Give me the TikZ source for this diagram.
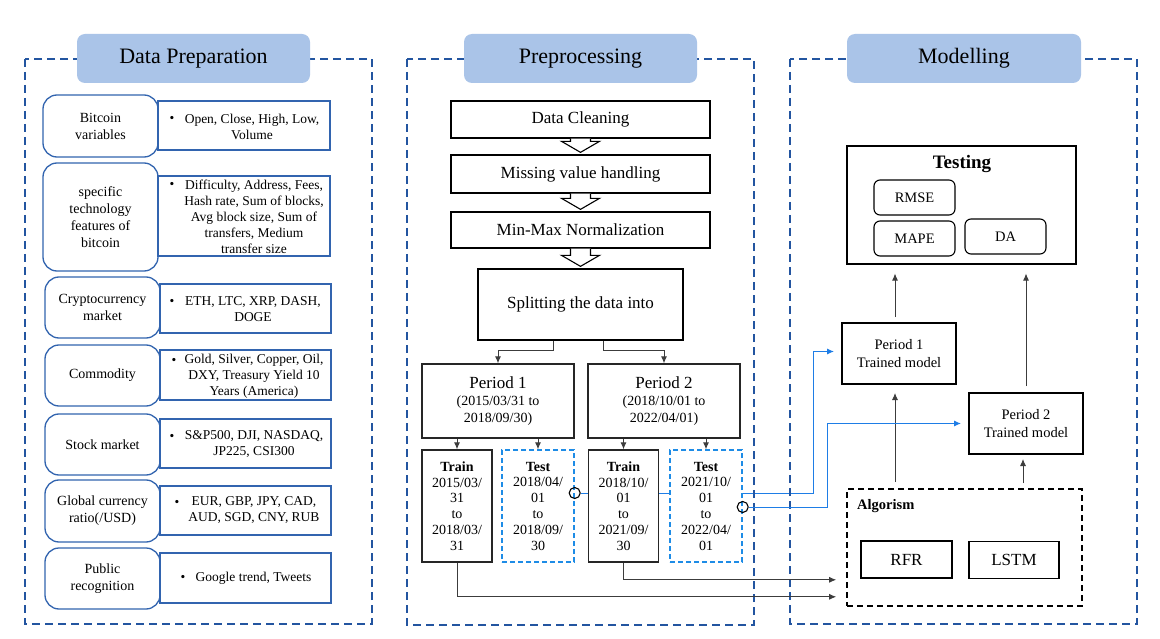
\documentclass[tikz,border=0pt]{standalone}
\usepackage{fontspec}
\setmainfont{Liberation Serif}
\usetikzlibrary{arrows.meta,calc,backgrounds}
\definecolor{panelblue}{RGB}{35,85,160}
\definecolor{titlefill}{RGB}{170,196,232}
\definecolor{boxblue}{RGB}{50,100,175}
\definecolor{testblue}{RGB}{30,140,230}
\definecolor{linkblue}{RGB}{30,125,230}
\definecolor{grayline}{RGB}{60,60,60}
\begin{document}
\begin{tikzpicture}[x=1pt,y=-1pt,
 panel/.style={draw=panelblue, line width=1.8pt, dash pattern=on 8pt off 5pt},
 titlebox/.style={fill=titlefill, rounded corners=8pt, minimum width=233pt, minimum height=49pt, font=\fontsize{22}{26}\selectfont, inner sep=0pt},
 lbox/.style={draw=boxblue, line width=1.3pt, fill=white, rounded corners=14pt, minimum width=115pt, align=center, font=\fontsize{14}{17}\selectfont, inner sep=0pt},
 rbox/.style={draw=boxblue, line width=1.3pt, fill=white, inner sep=0pt},
 rtxt/.style={align=center, font=\fontsize{13.5}{16}\selectfont, inner sep=0pt},
 bul/.style={font=\fontsize{13.5}{16}\selectfont, inner sep=0pt},
 pstep/.style={draw=black, line width=1.3pt, fill=white, minimum width=259pt, font=\fontsize{17}{20}\selectfont, inner sep=0pt},
 hollow/.style={draw=black, line width=1.1pt, fill=white, line join=miter},
 pbox/.style={draw=black!85, line width=1.4pt, fill=white, minimum width=152pt, minimum height=74pt, align=center, font=\fontsize{14}{17}\selectfont, inner sep=0pt},
 trbox/.style={draw=black!85, line width=1.4pt, fill=white, minimum width=70pt, minimum height=112pt, align=center, font=\fontsize{14}{15.8}\selectfont, inner sep=0pt},
 tebox/.style={draw=testblue, line width=1.4pt, dash pattern=on 5pt off 3pt, fill=white, minimum width=72pt, minimum height=112pt, align=center, font=\fontsize{14}{15.8}\selectfont, inner sep=0pt},
 ring/.style={circle, draw=black, line width=1.1pt, minimum size=11pt, inner sep=0pt},
 conn/.style={draw=grayline, line width=0.9pt, -{Latex[length=7pt,width=6pt]}},
 blink/.style={draw=linkblue, line width=1pt, -{Latex[length=7pt,width=6pt]}},
 metric/.style={draw=black, line width=1.1pt, rounded corners=6pt, minimum width=81pt, minimum height=35pt, font=\fontsize{14.5}{17}\selectfont, inner sep=0pt},
 tmodel/.style={draw=black, line width=2pt, fill=white, minimum width=114pt, minimum height=61pt, align=center, font=\fontsize{14.5}{18}\selectfont, inner sep=0pt},
 algbox/.style={draw=black, line width=1.6pt, dash pattern=on 6pt off 4pt, minimum width=235pt, minimum height=117pt, inner sep=0pt},
 algitem/.style={draw=black, line width=1.2pt, minimum height=37pt, font=\fontsize{17}{20}\selectfont, inner sep=0pt}
]
\useasboundingbox (0,0) rectangle (1160,639);
\begin{pgfonlayer}{background}
\fill[white] (0,0) rectangle (1160,639);
\end{pgfonlayer}

% panels
\draw[panel] (25,59) rectangle (372,624);
\draw[panel] (407,59) rectangle (754,625);
\draw[panel] (790,59) rectangle (1137,624);

% titles
\node[titlebox] (tdp) at (193.5,58.5) {Data Preparation};
\node[titlebox] (tpp) at (580.5,58.5) {Preprocessing};
\node[titlebox, minimum width=234pt] (tmo) at (964,58.5) {Modelling};

% ---- Data preparation rows
\node[lbox, minimum height=62pt] (l1) at (100.5,126) {Bitcoin\\variables};
\node[rbox, minimum width=172pt, minimum height=49pt] (r1) at (244,125.5) {};
\node[rtxt] (t1) at (252,127) {Open, Close, High, Low,\\Volume};
\node[bul] (b1) at (172,119) {\textbullet};

\node[lbox, minimum height=108pt] (l2) at (100.5,217) {specific\\technology\\features of\\bitcoin};
\node[rbox, minimum width=172pt, minimum height=80pt] (r2) at (244,216) {};
\node[rtxt] (t2) at (254,216.5) {Difficulty, Address, Fees,\\Hash rate, Sum of blocks,\\Avg block size, Sum of\\transfers, Medium\\transfer size};
\node[bul] (b2) at (172,185) {\textbullet};

\node[lbox, minimum height=61pt] (l3) at (102.5,307.5) {Cryptocurrency\\market};
\node[rbox, minimum width=171pt, minimum height=49pt] (r3) at (245.5,308.5) {};
\node[rtxt] (t3) at (253,309.5) {ETH, LTC, XRP, DASH,\\DOGE};
\node[bul] (b3) at (172,302) {\textbullet};

\node[lbox, minimum height=61pt] (l4) at (102.5,375.5) {Commodity};
\node[rbox, minimum width=171pt, minimum height=50pt] (r4) at (245.5,375) {};
\node[rtxt] (t4) at (254,376) {Gold, Silver, Copper, Oil,\\DXY, Treasury Yield 10\\Years (America)};
\node[bul] (b4) at (174,361) {\textbullet};

\node[lbox, minimum height=61pt] (l5) at (102.5,444.5) {Stock market};
\node[rbox, minimum width=171pt, minimum height=49pt] (r5) at (245.5,443.5) {};
\node[rtxt] (t5) at (254,444.5) {S\&P500, DJI, NASDAQ,\\JP225, CSI300};
\node[bul] (b5) at (172,437) {\textbullet};

\node[lbox, minimum height=62pt] (l6) at (102.5,511) {Global currency\\ratio(/USD)};
\node[rbox, minimum width=171pt, minimum height=49pt] (r6) at (245.5,510.5) {};
\node[rtxt] (t6) at (254,510.5) {EUR, GBP, JPY, CAD,\\AUD, SGD, CNY, RUB};
\node[bul] (b6) at (177,503) {\textbullet};

\node[lbox, minimum height=61pt] (l7) at (102.5,578.5) {Public\\recognition};
\node[rbox, minimum width=171pt, minimum height=50pt] (r7) at (245.5,578) {};
\node[rtxt] (t7) at (253.5,578) {Google trend, Tweets};
\node[bul] (b7) at (183,578) {\textbullet};

% ---- Preprocessing
\node[pstep, minimum height=37pt] (dc) at (580.5,119.5) {Data Cleaning};
\node[pstep, minimum height=38pt] (mv) at (580.5,174) {Missing value handling};
\node[pstep, minimum height=36pt] (mm) at (580.5,230) {Min-Max Normalization};
\node[pstep, minimum width=205pt, minimum height=71pt] (sp) at (580.5,304.5) {Splitting the data into};

\foreach \a/\b in {dc/mv, mv/mm, mm/sp}{
 \draw[hollow] ($(\a.south)+(-10,0)$) -- ($(\b.north)+(-10,-13)$) -- ($(\b.north)+(-19,-13)$)
   -- ($(\b.north)+(0,-2)$) -- ($(\b.north)+(19,-13)$) -- ($(\b.north)+(10,-13)$) -- ($(\a.south)+(10,0)$);
}

\node[pbox] (p1) at (498,401) {{\fontsize{17}{19}\selectfont Period 1}\\(2015/03/31 to\\2018/09/30)};
\node[pbox] (p2) at (664,401) {{\fontsize{17}{19}\selectfont Period 2}\\(2018/10/01 to\\2022/04/01)};

\draw[conn] ($(sp.south)+(-27,0)$) -- ++(0,10) -| (p1.north);
\draw[conn] ($(sp.south)+(23,0)$) -- ++(0,10) -| (p2.north);

\node[trbox] (tr1) at (457,506) {\textbf{Train}\\2015/03/\\31\\to\\2018/03/\\31};
\node[tebox] (te1) at (538,506) {\textbf{Test}\\2018/04/\\01\\to\\2018/09/\\30};
\node[trbox] (tr2) at (623.5,506) {\textbf{Train}\\2018/10/\\01\\to\\2021/09/\\30};
\node[tebox] (te2) at (706,506) {\textbf{Test}\\2021/10/\\01\\to\\2022/04/\\01};

\draw[conn] (tr1.north |- p1.south) -- (tr1.north);
\draw[conn] (te1.north |- p1.south) -- (te1.north);
\draw[conn] (tr2.north |- p2.south) -- (tr2.north);
\draw[conn] (te2.north |- p2.south) -- (te2.north);

\node[ring] (c1) at ($(te1.east)+(0,-13)$) {};
\node[ring] (c2) at ($(te2.east)+(0,1)$) {};

% ---- Modelling
\node[draw=black, line width=1.1pt, minimum width=229pt, minimum height=118pt, inner sep=0pt] (testing) at (961.5,205) {};
\node[font=\fontsize{19}{22}\selectfont\bfseries, inner sep=0pt] (testingtxt) at (962,164) {Testing};
\node[metric] (rmse) at (914.5,197.5) {RMSE};
\node[metric] (mape) at (914.5,238.5) {MAPE};
\node[metric] (da) at (1005.5,236.5) {DA};

\node[tmodel] (ptm1) at (899,353.5) {Period 1\\Trained model};
\node[tmodel] (ptm2) at (1026,423.5) {Period 2\\Trained model};

\node[algbox] (alg) at (964.5,547.5) {};
\node[anchor=west, font=\fontsize{14.5}{17}\selectfont\bfseries, inner sep=0pt] (algtxt) at (857,506) {Algorism};
\node[algitem, minimum width=91pt] (rfr) at (906.5,559.5) {RFR};
\node[algitem, minimum width=90pt] (lstm) at (1014,560) {LSTM};

\draw[conn, shorten <=5pt, shorten >=9pt] ($(ptm1.north)+(-4,0)$) -- ($(ptm1.north |- testing.south)+(-4,0)$);
\draw[conn, shorten <=6pt, shorten >=9pt] (ptm2.north) -- (ptm2.north |- testing.south);
\draw[conn, shorten <=6pt, shorten >=8pt] ($(ptm1.south |- alg.north)+(-4,0)$) -- ($(ptm1.south)+(-4,0)$);
\draw[conn, shorten <=5pt, shorten >=4pt] ($(ptm2.south |- alg.north)+(-3,0)$) -- ($(ptm2.south)+(-3,0)$);

\draw[conn] (tr1.south) |- ($(alg.south west)+(-10,-10)$);
\draw[conn] (tr2.south) |- ($(alg.south west)+(-10,-27)$);

\coordinate (j1) at (813,493);
\coordinate (j2) at (827,507);
\begin{pgfonlayer}{background}
\draw[blink] (c1.east) -- (j1) |- ($(ptm1.west)+(-7,-2)$);
\end{pgfonlayer}
\draw[blink] (c2.east) -- (j2) |- ($(ptm2.west)+(-7,0)$);
\end{tikzpicture}
\end{document}
